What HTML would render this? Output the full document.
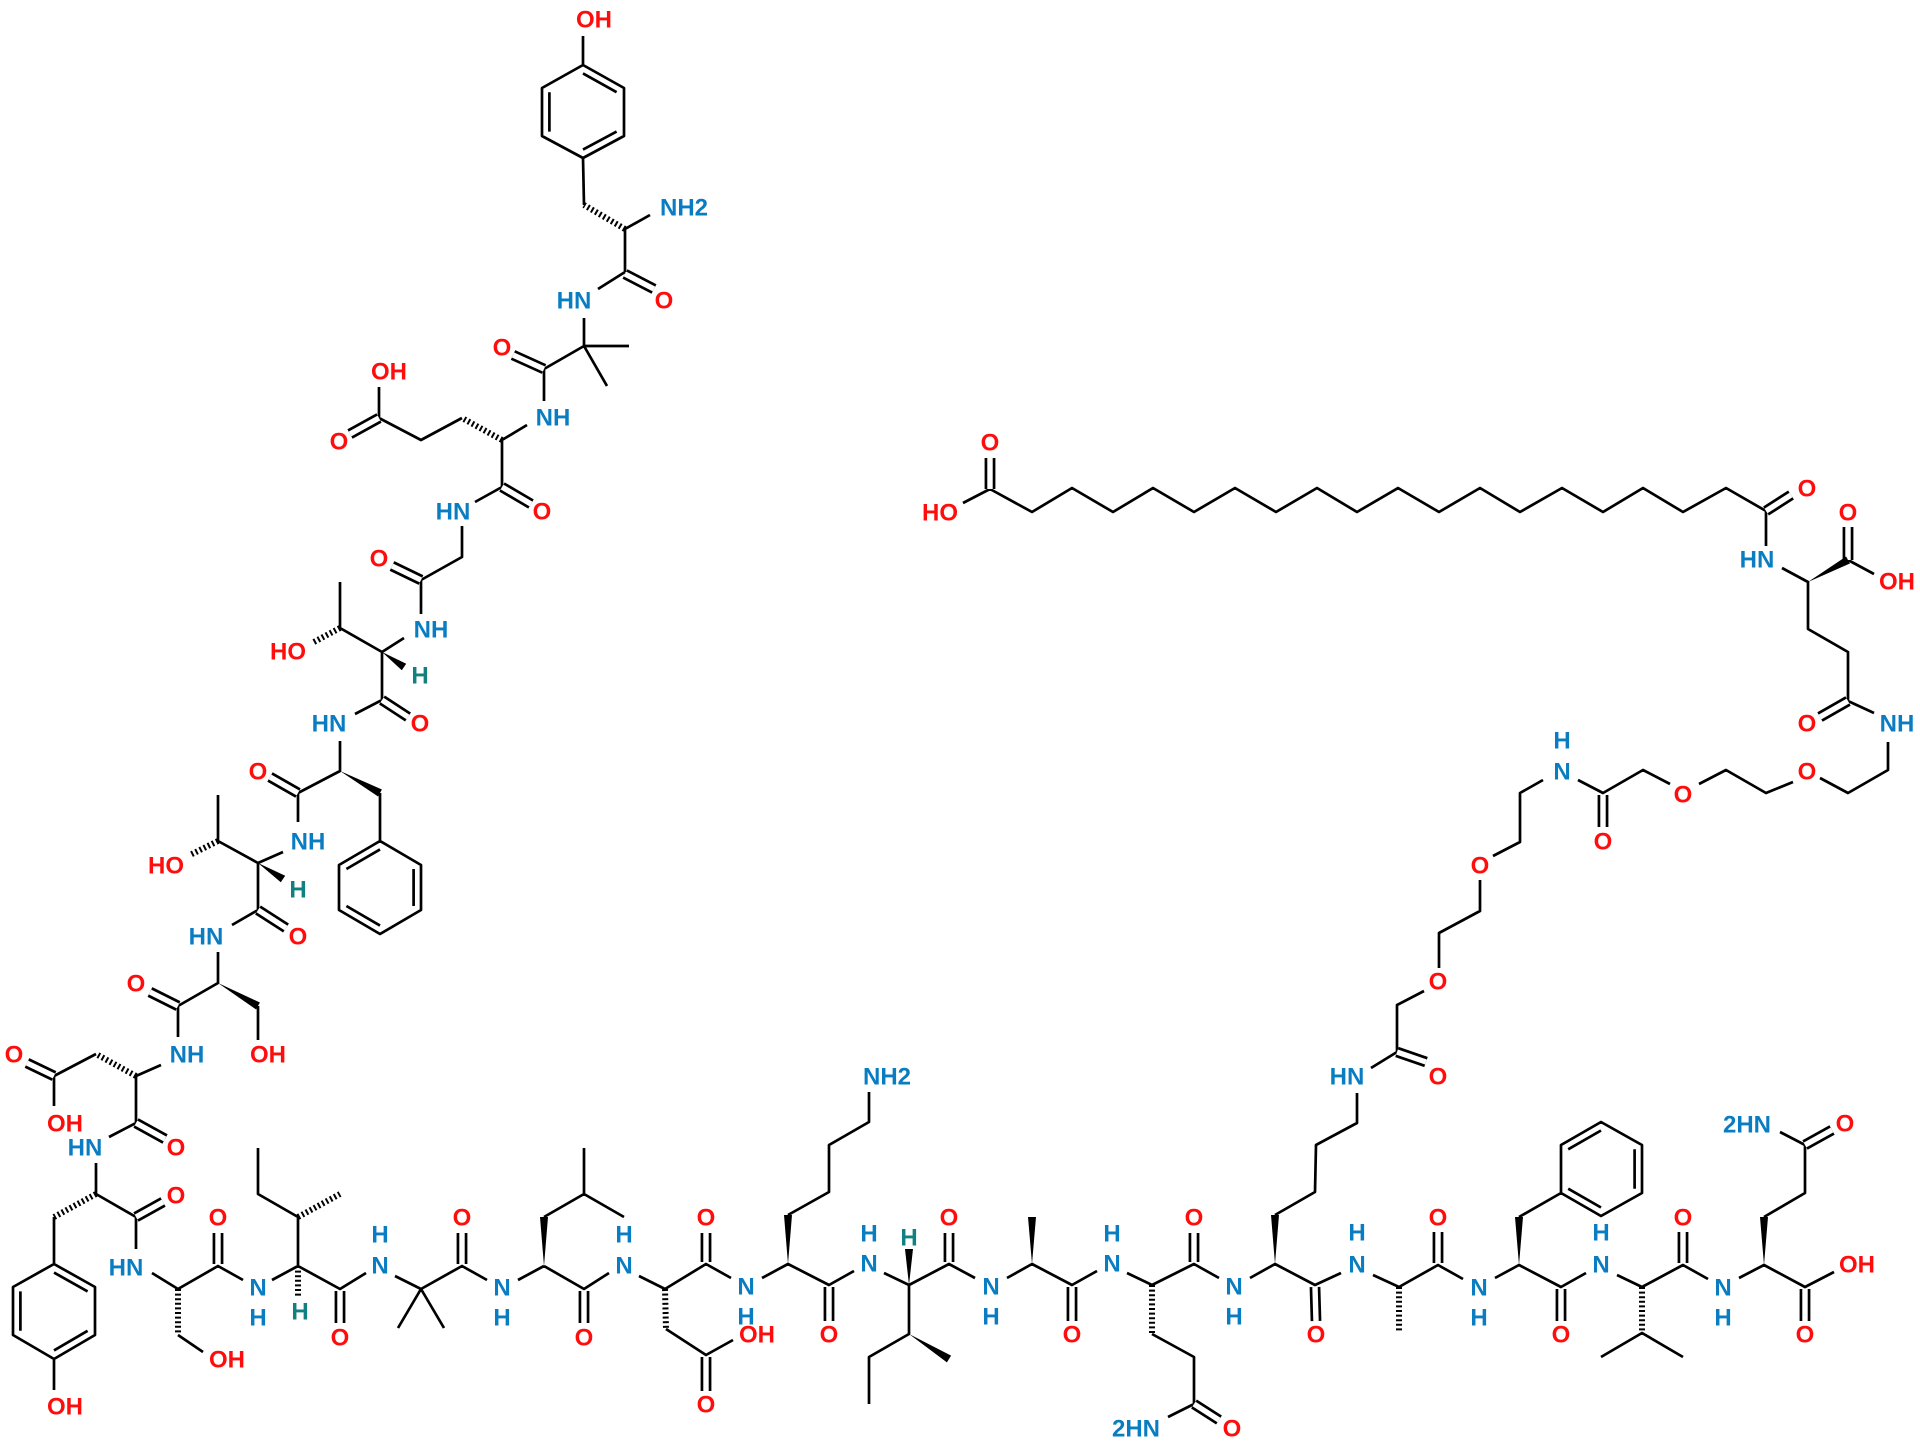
<!DOCTYPE html>
<html><head><meta charset="utf-8"><style>
html,body{margin:0;padding:0;background:#fff;}
svg{display:block;}
text{font-family:"Liberation Sans",Arial,sans-serif;font-weight:bold;font-size:24px;text-anchor:middle;dominant-baseline:central;}
.o{fill:#ff0d0d}.n{fill:#0a7dc2}.h{fill:#108080}
</style></head><body>
<svg width="1920" height="1447" viewBox="0 0 1920 1447" xmlns="http://www.w3.org/2000/svg">
<g fill="none" stroke="#000" stroke-width="2.7" stroke-linejoin="round">
<path d="
M583 36 L583 65 M583 65 L624 88 L624 136 L583 158 L542 136 L542 88 Z
M583 158 L584 205 M625 229 L650 215 M625 229 L625 272 M625 272 L598 289
M584 318 L584 346 L629 346 M584 346 L607 386 M584 346 L544 369 M544 369 L544 401
M527 425 L502 440 M462 418 L421 440 L379 418 M379 418 L379 387
M502 440 L502 487 M502 487 L475 502 M462 526 L462 557 L421 580 M421 580 L421 614
M404 638 L382 652 L340 628 L340 582 M382 652 L382 700 M382 700 L355 714
M340 741 L340 771 L298 793 M380 793 L380 841
M380 841 L421 865 L421 910 L380 934 L339 910 L339 865 Z
M298 793 L298 822 M283 852 L258 863 L218 841 L218 795 M258 863 L258 910 L232 925
M218 952 L218 983 L178 1006 M258 1006 L258 1040 M178 1006 L178 1037
M161 1065 L136 1076 M96 1054 L54 1076 L54 1106 M136 1076 L136 1123 L109 1137
M96 1163 L96 1194 L136 1217 L136 1249 M54 1217 L54 1264
M54 1264 L95 1287 L95 1335 L54 1359 L13 1335 L13 1287 Z M54 1359 L54 1390
M152 1273 L178 1289 M178 1335 L203 1352
M178 1289 L218 1266 L243 1280 M272 1280 L298 1266 L298 1217 L258 1194 L258 1148
M298 1266 L340 1289 L366 1273 M395 1276 L421 1289 L398 1328 M421 1289 L444 1328 M421 1289 L462 1266 L487 1280
M518 1280 L544 1266 M544 1217 L584 1194 L584 1148 M584 1194 L624 1217
M544 1266 L584 1289 L609 1273 M639 1276 L665 1289
M666 1329 L706 1355 L733 1340
M665 1289 L706 1264 L731 1278 M762 1278 L788 1264 L829 1285 L854 1271
M788 1215 L829 1192 L829 1145 L869 1122 L869 1092
M884 1273 L909 1285 L949 1264 L975 1278 M909 1285 L909 1334 L869 1357 L869 1404
M1007 1278 L1032 1264 L1072 1285 L1097 1271 M1127 1273 L1152 1285 L1194 1264 L1219 1278
M1152 1334 L1194 1357 L1194 1404 L1168 1417
M1250 1278 L1275 1264 L1315 1285 L1341 1273 M1275 1215 L1315 1192 L1316 1145 L1357 1123 L1357 1093
M1373 1275 L1399 1287 L1438 1265 L1463 1279 M1495 1278 L1519 1265 L1561 1287 L1586 1273
M1519 1217 L1561 1193 M1561 1193 L1561 1145 L1601 1122 L1642 1145 L1642 1193 L1601 1216 Z
M1617 1275 L1642 1287 L1683 1265 L1708 1279 M1601 1357 L1642 1333 L1683 1357
M1739 1278 L1764 1265 L1805 1287 L1834 1272 M1764 1217 L1805 1193 L1805 1145 L1780 1132
M1371 1068 L1397 1052 L1397 1005 L1424 991 M1439 968 L1439 933 L1480 911 L1480 880
M1493 856 L1520 842 L1520 793 L1543 780 M1578 780 L1603 793 L1643 770 L1670 784
M1699 784 L1726 770 L1766 793 L1793 782 M1820 778 L1848 793 L1888 770 L1888 742
M1874 713 L1848 701 L1848 652 L1808 629 L1808 582 L1782 568
M1848 560 L1874 574
M1766 546 L1766 511
M1766 511 L1726 488 L1683 512 L1643 488 L1603 512 L1562 488 L1520 512 L1480 488 L1439 512 L1398 488 L1357 512 L1317 488 L1276 512 L1235 488 L1194 512 L1153 488 L1113 512 L1072 488 L1032 512 L990 489 L963 503
"/>
<path d="M583 73.4 L616.6 92.2 M616.6 131.6 L583 149.6 M549.4 131.6 L549.4 92.2
M380 849.4 L346.4 869 M413.6 869 L413.6 906 M380 925.6 L346.4 906
M54 1272.6 L87.6 1291.4 M87.6 1330.8 L54 1350.4 M20.4 1330.8 L20.4 1291.4
M1568.2 1149.3 L1601 1130.5 M1634.6 1149.3 L1634.6 1188.7 M1601 1207.5 L1568.2 1188.7"/>
</g>
<g fill="none" stroke-linecap="butt">
<path stroke="#000" stroke-width="10.8" d="
M625 274 L654 289 M544 369 L513 355 M379 418 L350 434 M502 487 L531 504 M421 580 L392 566
M382 700 L408 717 M298 793 L270 777 M258 910 L286 928 M178 1006 L150 992 M54 1076 L27 1063
M136 1123 L165 1139 M136 1217 L163 1202
M218 1264 L218 1233 M340 1291 L340 1323 M462 1264 L462 1233 M584 1291 L584 1323
M706 1357 L706 1391 M706 1262 L706 1233 M829 1287 L829 1321 M949 1262 L949 1233
M1072 1287 L1072 1321 M1194 1404 L1219 1420 M1194 1262 L1194 1233 M1315 1287 L1316 1321
M1438 1263 L1438 1232 M1561 1289 L1561 1321 M1683 1263 L1683 1232 M1805 1145 L1832 1130
M1805 1289 L1805 1321 M1397 1052 L1426 1062 M1603 795 L1603 827 M1848 701 L1820 717
M1848 560 L1848 527 M1766 511 L1791 495 M990 489 L990 458"/>
<path stroke="#fff" stroke-width="5.4" d="
M625 274 L654 289 M544 369 L513 355 M379 418 L350 434 M502 487 L531 504 M421 580 L392 566
M382 700 L408 717 M298 793 L270 777 M258 910 L286 928 M178 1006 L150 992 M54 1076 L27 1063
M136 1123 L165 1139 M136 1217 L163 1202
M218 1264 L218 1233 M340 1291 L340 1323 M462 1264 L462 1233 M584 1291 L584 1323
M706 1357 L706 1391 M706 1262 L706 1233 M829 1287 L829 1321 M949 1262 L949 1233
M1072 1287 L1072 1321 M1194 1404 L1219 1420 M1194 1262 L1194 1233 M1315 1287 L1316 1321
M1438 1263 L1438 1232 M1561 1289 L1561 1321 M1683 1263 L1683 1232 M1805 1145 L1832 1130
M1805 1289 L1805 1321 M1397 1052 L1426 1062 M1603 795 L1603 827 M1848 701 L1820 717
M1848 560 L1848 527 M1766 511 L1791 495 M990 489 L990 458"/>
</g>
<g fill="none" stroke="#000" stroke-width="6" stroke-dasharray="2 2.6">
<path d="M625 229 L584 205 M502 440 L462 418 M340 628 L312 643 M218 841 L190 855 M136 1076 L96 1054
M96 1194 L54 1217 M178 1289 L178 1335 M298 1266 L298 1296 M298 1217 L340 1194 M665 1289 L666 1329
M1152 1285 L1152 1334 M1399 1287 L1399 1333 M1642 1287 L1642 1333"/>
</g>
<g fill="#000">
<polygon points="340,771 378.1,796.5 381.9,789.5"/>
<polygon points="382,652 401.8,670.3 406.2,663.7"/>
<polygon points="258,863 280.8,882.3 285.2,875.7"/>
<polygon points="218,983 256.1,1009.5 259.9,1002.5"/>
<polygon points="544,1266 540,1217 548,1217"/>
<polygon points="788,1264 784,1215 792,1215"/>
<polygon points="909,1285 905,1249 913,1249"/>
<polygon points="1032,1264 1028,1217 1036,1217"/>
<polygon points="1275,1264 1271,1215 1279,1215"/>
<polygon points="1519,1265 1515,1217 1523,1217"/>
<polygon points="1764,1265 1760,1217 1768,1217"/>
<polygon points="909,1334 946.9,1362.4 951.1,1355.6"/>
<polygon points="1808,582 1849.9,563.5 1846.1,556.5"/>
</g>
<g>
<text x="594" y="20" class="o">OH</text>
<text x="684" y="208" class="n">NH2</text>
<text x="574" y="301" class="n">HN</text>
<text x="664" y="301" class="o">O</text>
<text x="502" y="348" class="o">O</text>
<text x="553" y="418" class="n">NH</text>
<text x="389" y="372" class="o">OH</text>
<text x="339" y="442" class="o">O</text>
<text x="453" y="512" class="n">HN</text>
<text x="542" y="512" class="o">O</text>
<text x="379" y="559" class="o">O</text>
<text x="431" y="630" class="n">NH</text>
<text x="288" y="652" class="o">HO</text>
<text x="420" y="676" class="h">H</text>
<text x="329" y="724" class="n">HN</text>
<text x="420" y="724" class="o">O</text>
<text x="258" y="772" class="o">O</text>
<text x="308" y="842" class="n">NH</text>
<text x="166" y="866" class="o">HO</text>
<text x="298" y="890" class="h">H</text>
<text x="206" y="937" class="n">HN</text>
<text x="298" y="937" class="o">O</text>
<text x="136" y="984" class="o">O</text>
<text x="268" y="1055" class="o">OH</text>
<text x="187" y="1055" class="n">NH</text>
<text x="14" y="1055" class="o">O</text>
<text x="65" y="1124" class="o">OH</text>
<text x="85" y="1148" class="n">HN</text>
<text x="176" y="1148" class="o">O</text>
<text x="176" y="1196" class="o">O</text>
<text x="126" y="1268" class="n">HN</text>
<text x="65" y="1407" class="o">OH</text>
<text x="227" y="1360" class="o">OH</text>

<text x="218" y="1218" class="o">O</text>
<text x="258" y="1288" class="n">N</text><text x="258" y="1318" class="n">H</text>
<text x="300" y="1312" class="h">H</text>
<text x="340" y="1338" class="o">O</text>
<text x="380" y="1266" class="n">N</text><text x="380" y="1235" class="n">H</text>
<text x="462" y="1218" class="o">O</text>
<text x="502" y="1288" class="n">N</text><text x="502" y="1318" class="n">H</text>
<text x="584" y="1338" class="o">O</text>
<text x="624" y="1266" class="n">N</text><text x="624" y="1235" class="n">H</text>
<text x="706" y="1218" class="o">O</text>
<text x="757" y="1335" class="o">OH</text>
<text x="706" y="1405" class="o">O</text>
<text x="746" y="1287" class="n">N</text><text x="746" y="1317" class="n">H</text>
<text x="887" y="1077" class="n">NH2</text>
<text x="829" y="1335" class="o">O</text>
<text x="869" y="1264" class="n">N</text><text x="869" y="1234" class="n">H</text>
<text x="909" y="1238" class="h">H</text>
<text x="949" y="1218" class="o">O</text>
<text x="991" y="1287" class="n">N</text><text x="991" y="1317" class="n">H</text>
<text x="1072" y="1335" class="o">O</text>
<text x="1112" y="1264" class="n">N</text><text x="1112" y="1234" class="n">H</text>
<text x="1136" y="1429" class="n">2HN</text>
<text x="1232" y="1429" class="o">O</text>
<text x="1194" y="1218" class="o">O</text>
<text x="1234" y="1287" class="n">N</text><text x="1234" y="1317" class="n">H</text>
<text x="1316" y="1335" class="o">O</text>
<text x="1357" y="1265" class="n">N</text><text x="1357" y="1233" class="n">H</text>
<text x="1438" y="1218" class="o">O</text>
<text x="1479" y="1288" class="n">N</text><text x="1479" y="1318" class="n">H</text>
<text x="1561" y="1335" class="o">O</text>
<text x="1601" y="1265" class="n">N</text><text x="1601" y="1233" class="n">H</text>
<text x="1683" y="1218" class="o">O</text>
<text x="1723" y="1288" class="n">N</text><text x="1723" y="1318" class="n">H</text>
<text x="1747" y="1125" class="n">2HN</text>
<text x="1845" y="1124" class="o">O</text>
<text x="1857" y="1265" class="o">OH</text>
<text x="1805" y="1335" class="o">O</text>

<text x="1347" y="1077" class="n">HN</text>
<text x="1438" y="1077" class="o">O</text>
<text x="1438" y="982" class="o">O</text>
<text x="1480" y="866" class="o">O</text>
<text x="1562" y="772" class="n">N</text><text x="1562" y="741" class="n">H</text>
<text x="1603" y="842" class="o">O</text>
<text x="1683" y="795" class="o">O</text>
<text x="1807" y="772" class="o">O</text>
<text x="1897" y="724" class="n">NH</text>
<text x="1807" y="724" class="o">O</text>
<text x="1897" y="582" class="o">OH</text>
<text x="1848" y="513" class="o">O</text>
<text x="1757" y="560" class="n">HN</text>
<text x="1807" y="489" class="o">O</text>
<text x="990" y="443" class="o">O</text>
<text x="940" y="513" class="o">HO</text>
</g>
</svg>
</body></html>
